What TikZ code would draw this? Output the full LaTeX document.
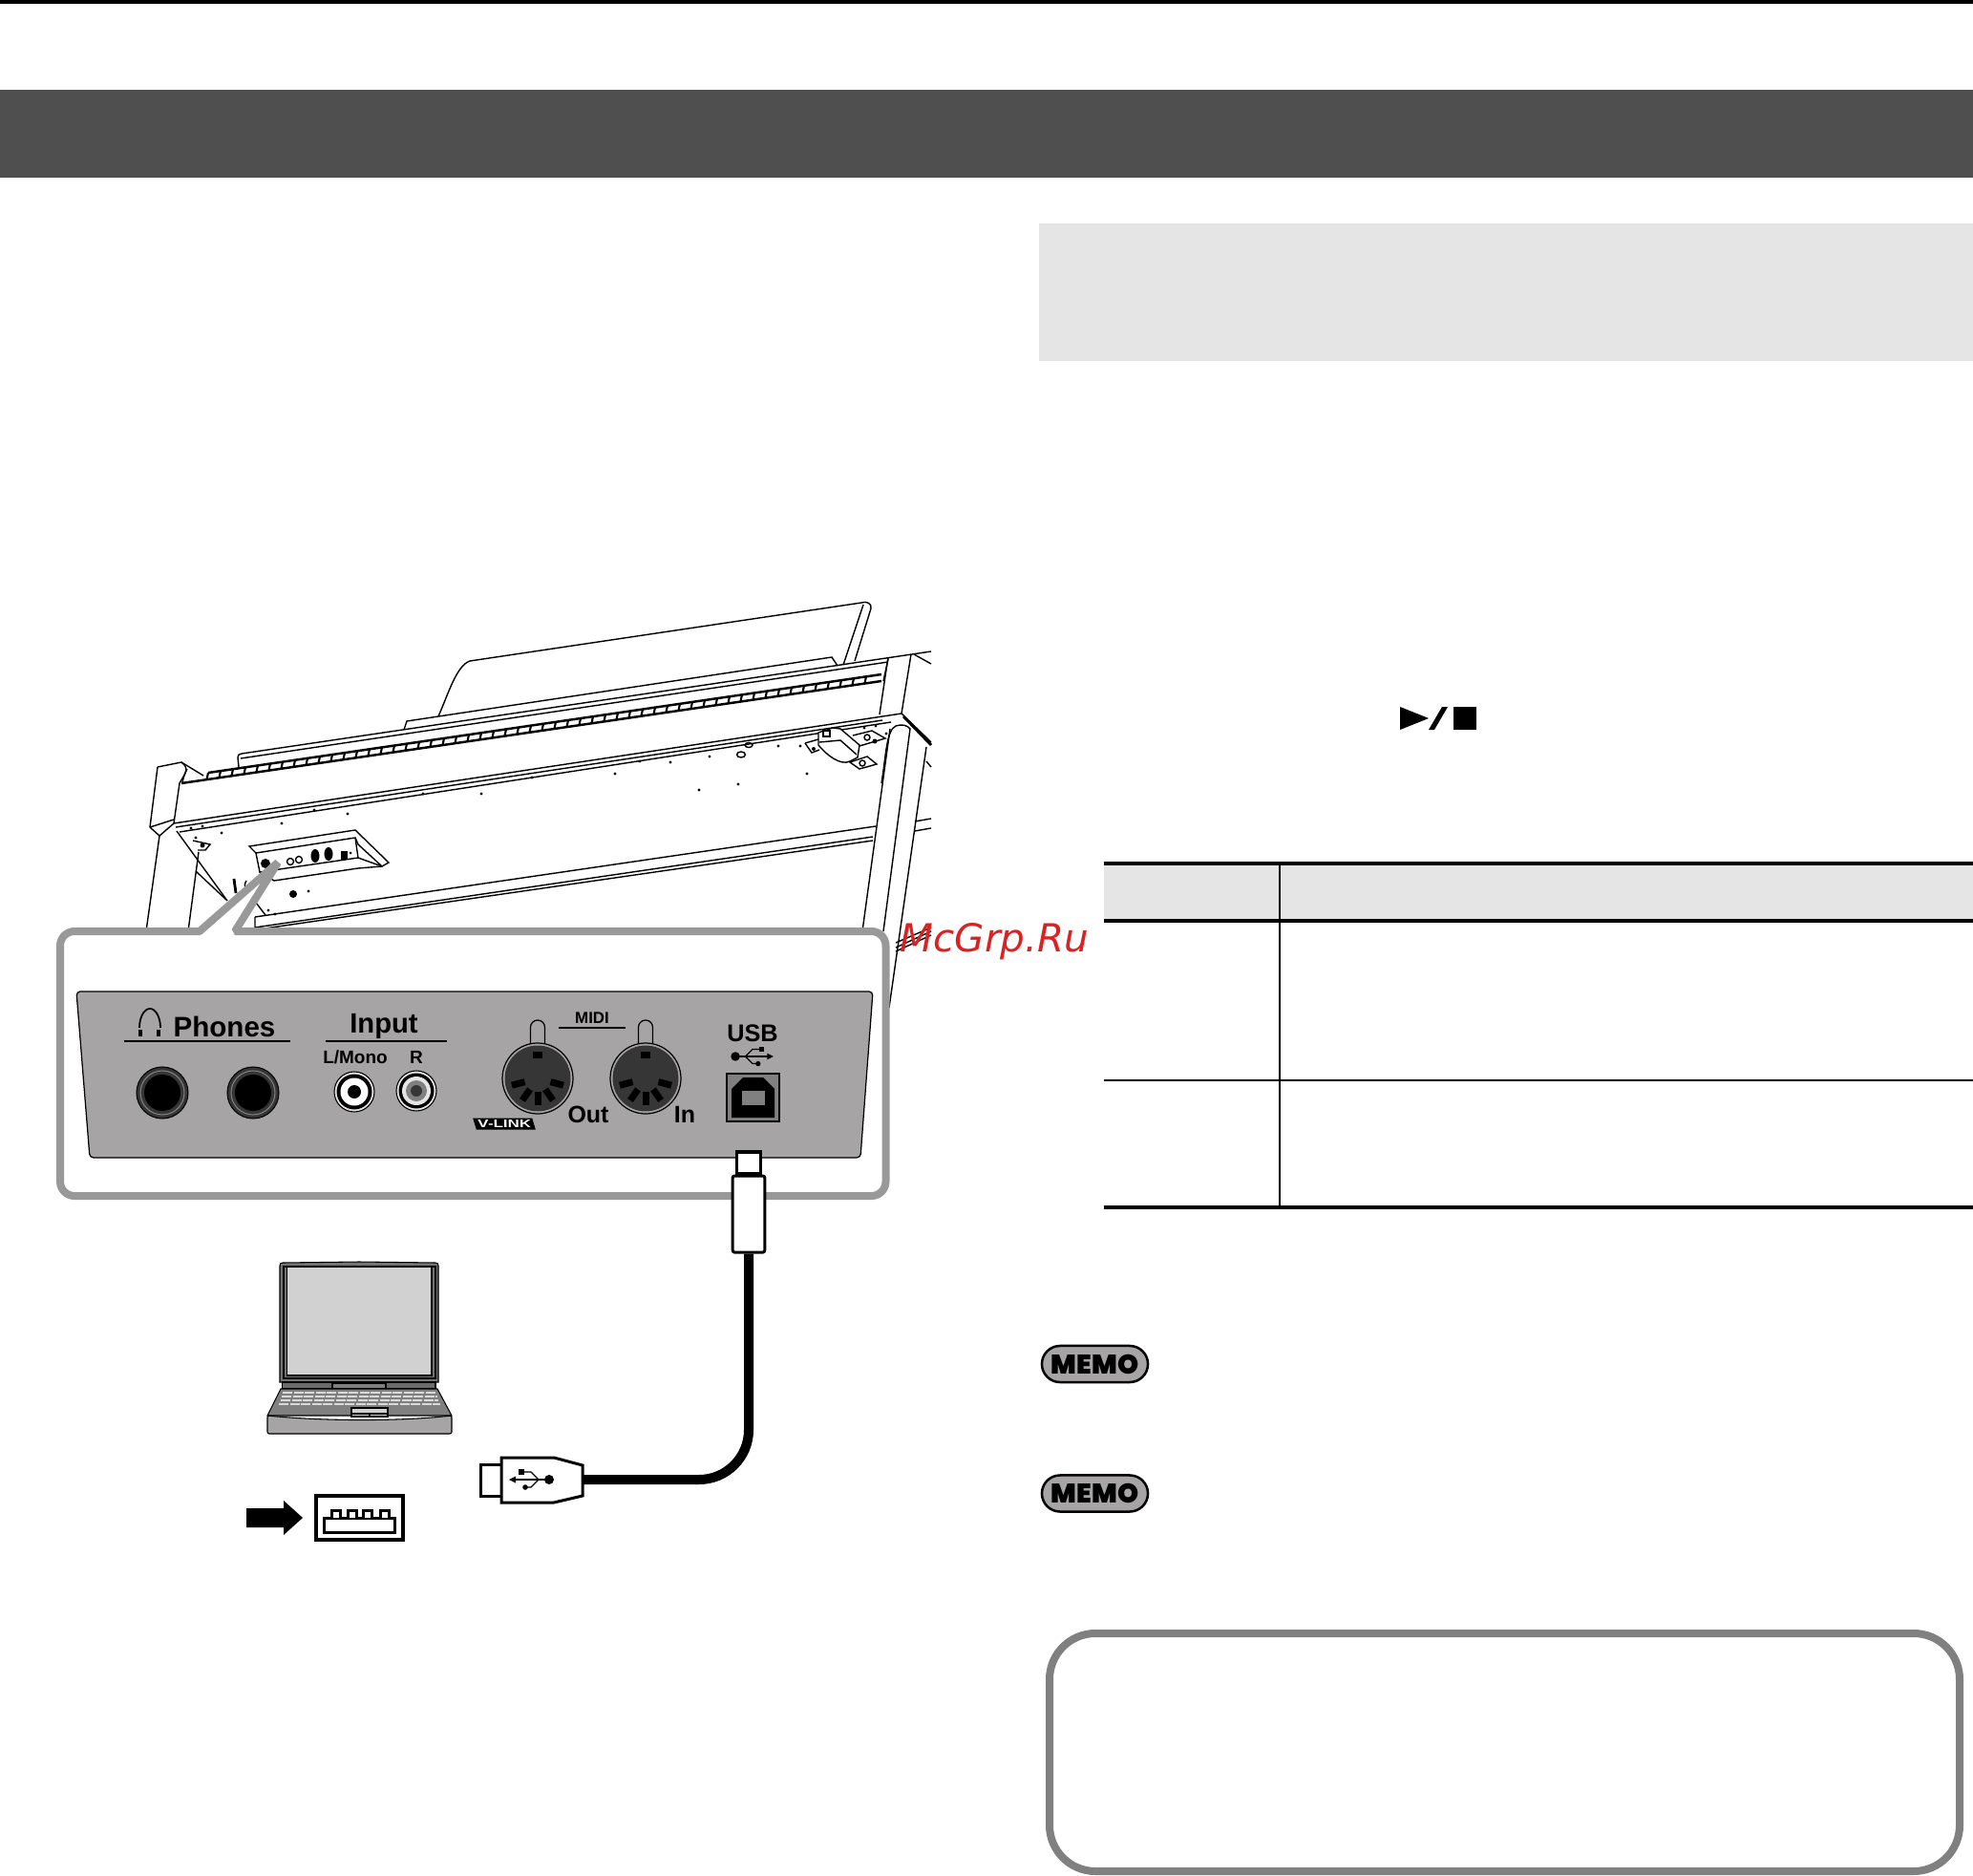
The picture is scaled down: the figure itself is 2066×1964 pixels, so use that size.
\documentclass[tikz,border=0pt]{standalone}
\usepackage{fontspec}
\usetikzlibrary{positioning}
\setmainfont{Liberation Sans}
\newfontfamily\memofont{Poppins Black}
\newfontfamily\markfont{DejaVu Sans}
\definecolor{bandgray}{HTML}{4F4F4F}
\definecolor{palegray}{HTML}{E5E5E5}
\definecolor{framegray}{HTML}{999999}
\definecolor{boxgray}{HTML}{808080}
\definecolor{panelgray}{HTML}{A6A4A5}
\definecolor{darkgray}{HTML}{363636}
\definecolor{markred}{HTML}{D92323}
\tikzset{
	pianoline/.style={black,line width=0.4pt},
	plugline/.style={black,line width=0.3mm,fill=white},
	lapline/.style={black,line width=0.3pt},
	label/.style={inner sep=0pt,anchor=base,font=\bfseries\fontsize{#1}{#1}\selectfont},
	rule/.style={black,line width=0.35pt},
	tablerule/.style={black,line width=0.4mm},
	memopill/.style={draw=black,fill=panelgray,line width=0.25mm,rounded corners=0.19cm,minimum width=1.11cm,minimum height=0.38cm,inner sep=0pt,font=\memofont\fontsize{8}{8}\selectfont},
	usbmark/.pic={
		\draw[line width=0.35pt] (-17,0) -- (19,0);
		\fill (21,0) circle (5);
		\fill (-21,0) -- (-14,-3.5) -- (-14,3.5) -- cycle;
		\draw[line width=0.35pt] (-7,-8) -- (2,-8) -- (10,0) -- (2,8) -- (-3,8);
		\fill (-11,-11) rectangle (-5,-5);
		\fill (-4,8) circle (2.8);
	}
}
\begin{document}
\begin{tikzpicture}[x=0.01cm,y=-0.01cm]
	\useasboundingbox (0,0) rectangle (2066,1964);
	\fill[white] (0,0) rectangle (2066,1964);
	\fill[black] (0,0) rectangle (2066,4);
	\fill[bandgray] (0,94) rectangle (2066,186);
	\fill[palegray] (1088,234) rectangle (2066,378);

	\draw[pianoline] (459,750) .. controls (470,725) and (478,697) .. (492,692) -- (902,631)
		.. controls (908,629) and (913,632) .. (912,637) -- (895,692);
	\draw[pianoline] (904,633) -- (883,696);
	\draw[pianoline] (423,764) -- (426,755) -- (871,688) -- (877,697);
	\draw[pianoline] (250,803) -- (249,793) .. controls (249,790) and (250,790) .. (253,789) -- (975,682);
	\draw[pianoline] (252,794) -- (930,693);
	\draw[black,line width=0.7pt] (218,809) -- (923,706);
	\draw[black,line width=0.7pt] (190,820) -- (923,713);
	\foreach \k in {0,...,53}
		\draw[black,line width=0.6pt] (218+13*\k,809-1.9*\k) -- ++(-1.5,7);
	\draw[pianoline] (930,690) -- (925,713);

	\draw[pianoline] (165,803) -- (190,798) -- (213,812);
	\draw[pianoline] (190,798) .. controls (200,805) and (192,812) .. (188,820) -- (182,862);
	\draw[pianoline] (196,805) .. controls (193,810) and (192,815) .. (191,819);
	\draw[pianoline] (165,803) -- (157,866) -- (167,875) -- (182,862);
	\draw[pianoline] (167,875) -- (153,975);
	\draw[pianoline] (208,892) -- (197,975);
	\draw[pianoline] (182,862) -- (944,747);
	\draw[pianoline] (157,866) -- (182,858);
	\draw[pianoline] (184,866) -- (924,754);
	\draw[pianoline] (188,871) -- (933,756);
	\draw[pianoline] (185,870) -- (238,943);
	\draw[pianoline] (205,912) -- (237,942);
	\draw[pianoline] (202,880) -- (220,884) -- (215,890) -- (207,890);
	\fill (212,885) circle (2.5);
	\draw[black,line width=0.8pt] (245,920) -- (247,935);
	\draw[pianoline] (258,922) .. controls (254,928) and (258,935) .. (264,930);
	\draw[pianoline] (268,945) -- (278,958);

	\draw[pianoline] (930,688) -- (921,748);
	\draw[pianoline] (954,685) -- (944,747);
	\draw[pianoline] (957,685) -- (975,695);
	\draw[pianoline] (944,747) -- (975,777);
	\draw[black,line width=0.8pt] (946,750) -- (975,780);
	\draw[pianoline] (923,820) .. controls (928,790) and (928,765) .. (938,760) .. controls (944,758) and (950,759) .. (953,763) -- (925,975);
	\draw[pianoline] (932,763) -- (903,975);
	\draw[pianoline] (970,782) -- (931,1055);
	\draw[pianoline] (970,797) -- (975,803);

	\draw[pianoline] (267,960) -- (917,865);
	\draw[pianoline] (267,960) -- (267,971) -- (914,876);
	\draw[pianoline] (270,973) -- (914,880);
	\draw[pianoline] (958,860) -- (975,857);
	\draw[pianoline] (958,870) -- (975,867);
	\draw[pianoline] (938,992) -- (975,975);
	\draw[pianoline] (938,987) -- (975,971);
	\draw[pianoline] (938,996) -- (975,979);

	\foreach \hx/\hy in {200/867,212/865,232/872,205/877,295/862,329/848,364/852,443/831,504/831,557/814,644/810,670/797,702/798,743/792,732/827,773/821,845/810,815/781,838/781,278/887,358/874,323/933,281/953,288/957,905/762,917/760,928/768}
		\fill (\hx,\hy) circle (1.7);
	\fill (307,936) circle (4);
	\draw[pianoline] (776,790) ellipse [x radius=4.5,y radius=3];
	\draw[pianoline] (784,780) ellipse [x radius=4,y radius=2.5];

	\draw[pianoline,fill=white] (261,886) -- (372,869) -- (407,903) -- (400,907) -- (375,884) -- (372,877) -- (268,893) -- cycle;
	\draw[pianoline] (268,893) -- (272,913) -- (375,898) -- (372,877);
	\draw[pianoline] (375,898) -- (400,907);
	\draw[pianoline] (287,922) -- (375,909) -- (400,907);
	\draw[pianoline] (272,913) -- (287,922);
	\fill (278,904) circle (5);
	\draw[pianoline] (304,902) circle (3.5);
	\draw[pianoline] (313,900) circle (3.5);
	\fill (330,896) ellipse [x radius=4.5,y radius=7];
	\fill (344,894) ellipse [x radius=4.5,y radius=7];
	\fill (357,891) rectangle (364,900);
	\fill (367,893) circle (1.5);

	\draw[pianoline,fill=white] (857,767) -- (872,762) -- (880,763) -- (900,780) -- (898,793) -- (890,797)
		.. controls (880,802) and (865,790) .. (857,780) -- cycle;
	\draw[pianoline] (858,777) -- (880,775) -- (897,790);
	\draw[pianoline] (843,778) -- (857,774);
	\draw[pianoline] (843,778) -- (850,788) -- (858,785);
	\fill (852,784) circle (2);
	\draw[pianoline] (893,770) -- (913,765) -- (927,773) -- (900,781);
	\draw[pianoline] (908,772) circle (3);
	\fill (916,776) circle (2.5);
	\draw[pianoline,fill=white] (890,798) -- (908,792) -- (918,800) -- (900,805) -- cycle;
	\draw[pianoline] (903,799) circle (3);
	\draw[pianoline] (862,765) rectangle (869,771);

	\draw[framegray,line width=0.8mm,fill=white,line join=bevel,rounded corners=0.15cm] (150,975) -- (63,975) -- (63,1252) -- (927.5,1252) -- (927.5,975)
		-- (300,975) [sharp corners] -- (246,975) -- (291,903) -- (209,975) -- cycle;

	\draw[black,line width=0.35pt,fill=panelgray,rounded corners=0.04cm] (80,1038) -- (914,1038) -- (901,1212) -- (94,1212) -- cycle;

	\node[label=8.4] (phones) at (235,1085) {Phones};
	\draw[black,line width=0.5pt] (146,1076) arc[start angle=180,end angle=360,x radius=11,y radius=20];
	\draw[black,line width=0.45mm] (147,1078) -- (147,1085);
	\draw[black,line width=0.45mm] (166,1078) -- (166,1085);
	\draw[rule] (130,1090) -- (304,1090);
	\node[label=8.3] (input) at (402,1081) {Input};
	\draw[rule] (341,1090) -- (468,1090);
	\node[label=5.4] (lmono) at (372,1113) {L/Mono};
	\node[label=5.4] (rlabel) at (436,1113) {R};
	\node[label=4.8] (midi) at (620,1071) {MIDI};
	\draw[rule] (585,1076) -- (655,1076);
	\node[label=7.1] (outlabel) at (616,1175) {Out};
	\node[label=7.1] (inlabel) at (717,1175) {In};
	\node[label=7.2] (usblabel) at (788,1090) {USB};

	\foreach \jx in {170,265} {
		\draw[black,line width=0.3pt,fill=darkgray] (\jx,1144) circle (27);
		\draw[gray,line width=0.3pt] (\jx,1144) circle (23);
		\fill[black] (\jx,1144) circle (19);
	}
	\draw[black,line width=0.3pt,fill=palegray] (371,1143) circle (21);
	\fill[black] (371,1143) circle (18.5);
	\fill[white] (371,1143) circle (14.5);
	\fill[black] (371,1143) circle (7);
	\draw[black,line width=0.3pt,fill=palegray] (436,1142) circle (21);
	\fill[black] (436,1142) circle (18.5);
	\fill[palegray] (436,1142) circle (15);
	\fill[gray] (436,1142) circle (11);
	\fill[darkgray] (436,1142) circle (6);

	\foreach \dx in {563,676} {
		\draw[black,line width=0.35pt] (\dx-7.5,1110) -- (\dx-7.5,1075.5) arc (180:360:7.5) -- (\dx+7.5,1110);
		\draw[black,line width=0.35pt,fill=panelgray] (\dx,1129) circle (37);
		\fill[darkgray] (\dx,1129) circle (34.5);
		\fill[black] (\dx-5,1101) rectangle (\dx+5,1108);
		\foreach \pa in {15,55,90,125,165}
			\draw[black,line width=0.7mm] (\dx,1129) ++(\pa:14) -- ++(\pa:14);
	}

	\node[fill=black,text=white,inner sep=0pt,minimum width=0.62cm,minimum height=0.12cm,xslant=-0.3,font=\bfseries\itshape\fontsize{3.3}{3.3}\selectfont] (vlink) at (528,1176.5) {\scalebox{1.45}[1]{V-LINK}};

	\pic[xscale=-1,scale=0.95] at (790,1106) {usbmark};

	\draw[black,line width=0.3pt,fill=gray] (761,1124) rectangle (816,1174);
	\fill[black] (766,1170) -- (766,1140) -- (778,1128) -- (799,1128) -- (811,1140) -- (811,1170) -- cycle;
	\fill[gray] (777,1142) rectangle (801,1157);

	\node[plugline,draw,minimum width=0.25cm,minimum height=0.22cm,inner sep=0pt] (plugtip) at (784,1217) {};
	\node[plugline,draw,rounded corners=0.02cm,minimum width=0.335cm,minimum height=0.8cm,inner sep=0pt,below=0pt of plugtip] (plugbody) {};
	\coordinate (cableend) at (610,1549);
	\draw[black,line width=1mm,rounded corners=0.52cm] (plugbody.south) |- (cableend);
	\draw[plugline] (525,1533) -- (503,1533) -- (503,1566) -- (525,1566);
	\draw[plugline] (525,1526) -- (580,1526) -- (610,1534) -- (610,1566) -- (580,1573) -- (525,1573) -- cycle;
	\pic at (554,1549) {usbmark};

	\draw[lapline,fill=gray!90!black] (293,1447) -- (293,1325) .. controls (293,1323) and (294,1322) .. (296,1322) -- (376,1321) -- (456,1322) .. controls (458,1322) and (459,1323) .. (459,1325) -- (459,1447) -- cycle;
	\draw[lapline] (297,1326) rectangle (456,1443);
	\draw[lapline,fill=black!18] (300.5,1326) rectangle (452,1440);
	\draw[lapline,fill=black!58] (295.5,1447) rectangle (456,1454);
	\draw[lapline,fill=black!50] (348,1448) rectangle (404,1454);
	\draw[lapline,fill=black!50] (294,1454) -- (458,1454) -- (473,1482) -- (280,1482) -- cycle;
	\foreach \ky/\kl/\kr in {1458/296/456,1462/295/458,1466/294/459,1470/292/461}
		\draw[white!85!black,line width=0.35pt,dash pattern=on 0.1cm off 0.015cm] (\kl,\ky) -- (\kr,\ky);
	\draw[lapline,fill=black!18] (368,1474) rectangle (406,1483);
	\draw[lapline] (368,1480) -- (406,1480);
	\draw[lapline] (387,1480) -- (387,1483);
	\draw[lapline,fill=panelgray,rounded corners=0.02cm] (280,1482) .. controls (340,1488) and (420,1488) .. (473,1482) -- (473,1501) -- (280,1501) -- cycle;

	\fill[black] (258,1579) -- (297,1579) -- (297,1571) -- (317,1589) -- (297,1607) -- (297,1599) -- (258,1599) -- cycle;
	\draw[plugline,line width=0.35mm] (331,1566) rectangle (422,1612);
	\draw[plugline] (339,1589) rectangle (413,1604);
	\foreach \px in {347,364,380,398}
		\draw[plugline] (\px,1589) -- (\px,1581) -- (\px+9,1581) -- (\px+9,1589);

	\fill[palegray] (1156,904) rectangle (2066,964);
	\draw[tablerule] (1156,904) -- (2066,904);
	\draw[tablerule] (1156,964) -- (2066,964);
	\draw[tablerule] (1156,1264) -- (2066,1264);
	\draw[black,line width=0.3pt] (1156,1131) -- (2066,1131);
	\draw[black,line width=0.55pt] (1340,904) -- (1340,1264);

	\fill[black] (1466,740) -- (1496,752) -- (1466,764) -- cycle;
	\fill[black] (1496,764) -- (1502,764) -- (1516,740) -- (1510,740) -- cycle;
	\fill[black] (1522,740) rectangle (1546,764);

	\node[memopill] (memoa) at (1146.5,1428) {MEMO};
	\node[memopill] (memob) at (1146.5,1563.5) {MEMO};

	\draw[boxgray,line width=0.8mm,rounded corners=0.48cm] (1099,1710) rectangle (2052,1959);

	\node[inner sep=0pt,anchor=base west,text=markred,font=\markfont\itshape\fontsize{11.5}{11.5}\selectfont] (mark) at (942,996) {McGrp.Ru};
\end{tikzpicture}
\end{document}
